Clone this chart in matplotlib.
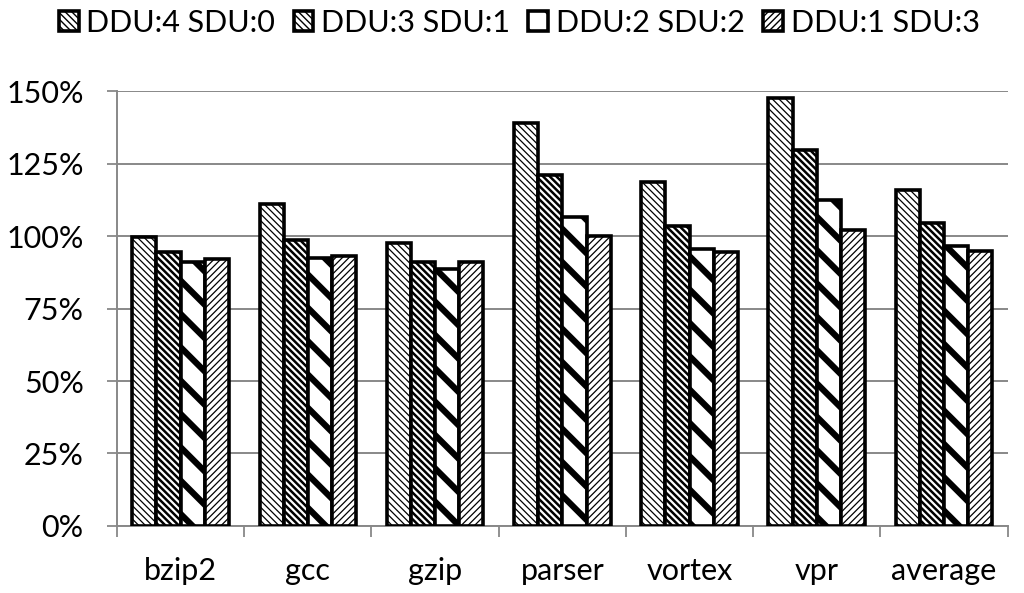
import numpy as np
import matplotlib.pyplot as plt
from matplotlib.ticker import PercentFormatter

plt.rcParams['font.family'] = ['Lato', 'DejaVu Sans']

benchmarks = ['bzip2', 'gcc', 'gzip', 'parser', 'vortex', 'vpr', 'average']
series = ['DDU:4 SDU:0', 'DDU:3 SDU:1', 'DDU:2 SDU:2', 'DDU:1 SDU:3']
ddu4_sdu0 = [99.5, 111.0, 97.5, 139.0, 118.5, 147.5, 116.0]
ddu3_sdu1 = [94.5, 98.5, 91.0, 121.0, 103.5, 129.5, 104.5]
ddu2_sdu2 = [91.0, 92.5, 88.5, 106.5, 95.5, 112.5, 96.5]
ddu1_sdu3 = [92.0, 93.0, 91.0, 100.0, 94.5, 102.0, 95.0]

values = [ddu4_sdu0, ddu3_sdu1, ddu2_sdu2, ddu1_sdu3]
hatches = ['\\' * 5, '\\' * 5, '\\', '/' * 5]
hatch_lw = [0.9, 1.8, 4.5, 0.9]

fig = plt.figure(figsize=(10.24, 5.93), dpi=100)
ax = fig.add_axes([0.1143, 0.113, 0.8697, 0.7335])

x = np.arange(len(benchmarks))
w = 0.19
for i, vals in enumerate(values):
    ax.bar(x + (i - 1.5) * w, vals, w, color='white', edgecolor='black',
           linewidth=2.6, hatch=hatches[i], hatch_linewidth=hatch_lw[i],
           label=series[i], zorder=3)

ax.set_xlim(-0.5, len(benchmarks) - 0.5)
ax.set_ylim(0, 150)
ax.set_yticks(np.arange(0, 151, 25))
ax.yaxis.set_major_formatter(PercentFormatter(decimals=0))
ax.set_xticks(x)
ax.set_xticklabels(benchmarks)
ax.set_xticks(np.arange(-0.5, len(benchmarks), 1), minor=True)
ax.tick_params(axis='x', which='major', length=0, pad=22, labelsize=22)
ax.tick_params(axis='x', which='minor', length=8, width=1.3, color='#888888')
ax.tick_params(axis='y', length=7, width=1.3, color='#888888', labelsize=22, pad=17)
ax.grid(axis='y', color='#888888', linewidth=1.4, zorder=0)

for s in ['top', 'right']:
    ax.spines[s].set_visible(False)
for s in ['left', 'bottom']:
    ax.spines[s].set_color('#888888')
    ax.spines[s].set_linewidth(1.4)

fig.legend(loc='center', bbox_to_anchor=(0.507, 0.962), ncol=4, frameon=False,
           fontsize=22, handlelength=0.65, handleheight=0.65, handletextpad=0.25,
           columnspacing=0.6)

fig.savefig('out.png', dpi=100)
